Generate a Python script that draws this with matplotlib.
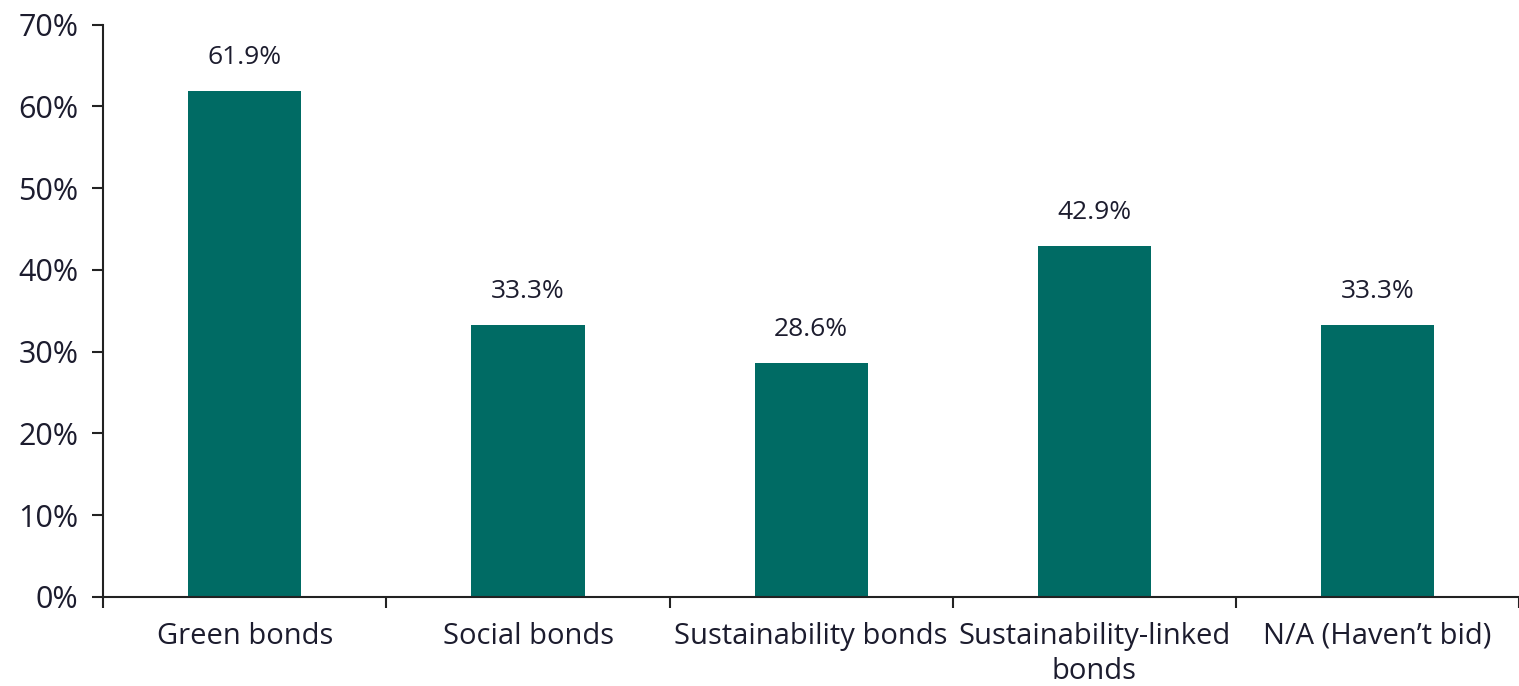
import matplotlib.pyplot as plt
import numpy as np

categories = ["Green bonds", "Social bonds", "Sustainability bonds",
              "Sustainability-linked\nbonds", "N/A (Haven\u2019t bid)"]
values = [61.9, 33.3, 28.6, 42.9, 33.3]
y_ticks = [0, 10, 20, 30, 40, 50, 60, 70]

BAR_COLOR = "#006b64"
TEXT_COLOR = "#1c1c2e"

plt.rcParams['font.family'] = ['Open Sans', 'DejaVu Sans']

fig = plt.figure(figsize=(15.19, 6.86), dpi=100)
ax = fig.add_axes([0.068, 0.13, 0.932, 0.834])

x = np.arange(len(categories))
ax.bar(x, values, width=0.4, color=BAR_COLOR, zorder=2)

# value labels above each bar
for xi, v in zip(x, values):
    ax.text(xi, v + 4.1, "{:.1f}%".format(v), ha='center', va='center',
            fontsize=19, color=TEXT_COLOR)

ax.set_xlim(-0.5, len(categories) - 0.5)
ax.set_ylim(0, 70)
ax.set_yticks(y_ticks)
ax.set_yticklabels(["{}%".format(t) for t in y_ticks], fontsize=22)

# category names centred, tick marks on the category boundaries
ax.set_xticks(x)
ax.set_xticklabels(categories, fontsize=21, linespacing=1.28)
ax.set_xticks(np.arange(-0.5, len(categories)), minor=True)
ax.tick_params(axis='x', which='major', length=0, pad=18)
ax.tick_params(axis='x', which='minor', length=8, width=1.5, direction='out', color='#222222')
ax.tick_params(axis='y', length=8, width=1.5, direction='out', color='#222222', pad=10)
ax.tick_params(labelcolor=TEXT_COLOR)

for side in ['top', 'right']:
    ax.spines[side].set_visible(False)
for side in ['left', 'bottom']:
    ax.spines[side].set_linewidth(1.5)
    ax.spines[side].set_color('#222222')

fig.savefig('out.png', dpi=100)
